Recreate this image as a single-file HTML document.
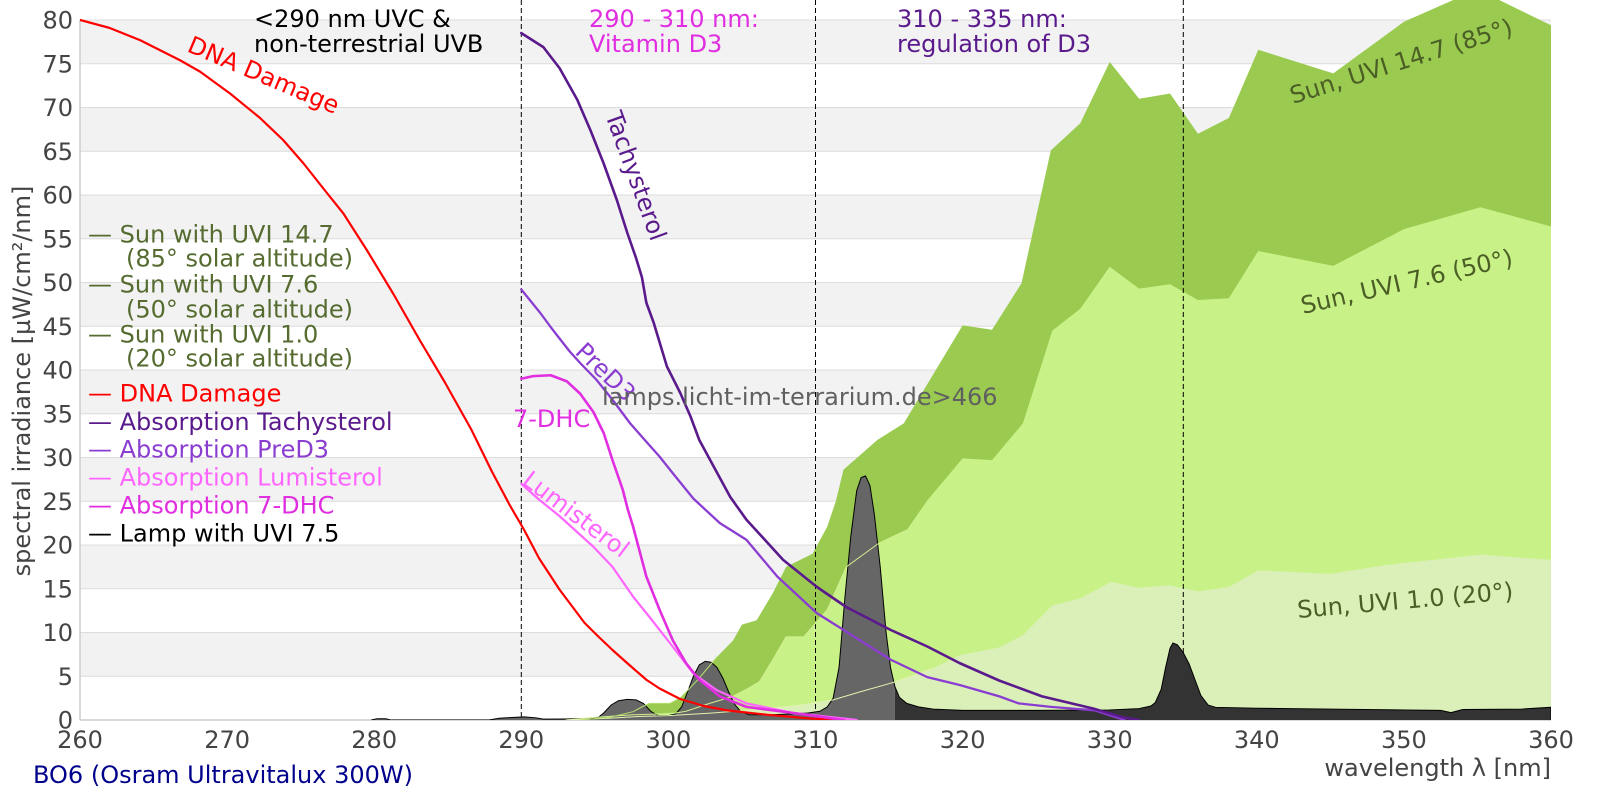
<!DOCTYPE html>
<html><head><meta charset="utf-8"><style>
html,body{margin:0;padding:0;background:#fff;}
svg{display:block;}
text{font-family:"DejaVu Sans","Liberation Sans",sans-serif;font-size:24px;}
</style></head><body>
<svg width="1600" height="800" viewBox="0 0 1600 800" xmlns="http://www.w3.org/2000/svg">
<defs><clipPath id="pc"><rect x="80" y="0" width="1471" height="720"/></clipPath></defs>
<rect x="0" y="0" width="1600" height="800" fill="#fff"/>
<g fill="#f2f2f2">
<rect x="80" y="20" width="1471" height="43.75"/>
<rect x="80" y="107.5" width="1471" height="43.75"/>
<rect x="80" y="195" width="1471" height="43.75"/>
<rect x="80" y="282.5" width="1471" height="43.75"/>
<rect x="80" y="370" width="1471" height="43.75"/>
<rect x="80" y="457.5" width="1471" height="43.75"/>
<rect x="80" y="545" width="1471" height="43.75"/>
<rect x="80" y="632.5" width="1471" height="43.75"/>
</g>
<g stroke="#dcdcdc" stroke-width="1">
<line x1="80" x2="1551" y1="676.25" y2="676.25"/><line x1="80" x2="1551" y1="632.5" y2="632.5"/>
<line x1="80" x2="1551" y1="588.75" y2="588.75"/><line x1="80" x2="1551" y1="545" y2="545"/>
<line x1="80" x2="1551" y1="501.25" y2="501.25"/><line x1="80" x2="1551" y1="457.5" y2="457.5"/>
<line x1="80" x2="1551" y1="413.75" y2="413.75"/><line x1="80" x2="1551" y1="370" y2="370"/>
<line x1="80" x2="1551" y1="326.25" y2="326.25"/><line x1="80" x2="1551" y1="282.5" y2="282.5"/>
<line x1="80" x2="1551" y1="238.75" y2="238.75"/><line x1="80" x2="1551" y1="195" y2="195"/>
<line x1="80" x2="1551" y1="151.25" y2="151.25"/><line x1="80" x2="1551" y1="107.5" y2="107.5"/>
<line x1="80" x2="1551" y1="63.75" y2="63.75"/><line x1="80" x2="1551" y1="20" y2="20"/>
</g>
<line x1="80" y1="20" x2="80" y2="720" stroke="#cccccc" stroke-width="1.5"/>
<line x1="80" y1="720" x2="1551" y2="720" stroke="#cccccc" stroke-width="1.5"/>

<g clip-path="url(#pc)">
<g transform="matrix(14.71 0 0 -8.75 -3744.6 720)">
<polygon fill="#9acb50" points="294,0 296,0.3 297.6,0.95 298.2,1.5 298.7,1.9 299.4,1.9 300.1,1.9 300.8,2.5 302,4.6 303.3,7.2 304.4,9.1 305,10.9 306,11.4 307.1,14.5 308,17.5 309.8,19 310.8,22.1 311.4,25.1 311.9,28.6 314.2,32 316,33.9 320,45.1 322,44.6 324,49.9 326,65.1 328,68.2 330,75.2 332,71 334.1,71.6 336,67 338.1,68.8 340.1,76.6 345.2,73.9 350,79.8 355,83.5 360,79.4 360,0"/>
<polygon fill="#c8f287" points="293,0 295,0.3 297.6,0.6 299.5,0.7 300.5,0.8 301.2,1 302.8,1.9 304.4,2.7 305.3,3.5 306.2,4.4 307.1,6.9 308,9.5 309.2,9.5 310.8,12.6 312.1,17.5 314.3,20.2 316.2,21.7 317.6,25.1 320,29.9 322,29.7 324.1,33.9 326.1,44.5 328,47 330,51.8 332,49.3 334.1,49.8 336,48 338.1,48.2 340.1,53.6 345.2,51.9 350,56.1 355.2,58.6 360,56.4 360,0"/>
<polygon fill="#daf0b8" points="293,0 296,0.2 298,0.4 300,0.5 303,0.8 306,1.2 309,1.7 311.2,2.3 313,3.2 315.3,4.3 318,5.9 319.8,7.4 322.5,8.3 324.1,9.7 326.1,13.1 328,13.9 330.1,15.8 332,15.1 334,15.4 336,14.7 338.1,15.2 340.1,17.1 345,16.7 348.7,17.7 352,18.3 355.2,18.9 360,18.3 360,0"/>
</g>
<g stroke="#000" stroke-width="1" stroke-dasharray="5,3">
<line x1="521.3" y1="0" x2="521.3" y2="720"/>
<line x1="815.5" y1="0" x2="815.5" y2="720"/>
<line x1="1183.3" y1="0" x2="1183.3" y2="720"/>
</g>
<g transform="matrix(14.71 0 0 -8.75 -3744.6 720)">
<polygon fill="#666666" points="279.8,0 280.2,0.15 280.8,0.15 281.1,0 287.8,0 288.5,0.2 289.5,0.3 290.2,0.35 291,0.25 291.5,0.1 293,0.12 294.5,0.18 295.2,0.25 295.6,0.8 296.1,1.7 296.6,2.2 297.2,2.35 297.8,2.3 298.3,1.9 298.8,1 299.3,0.5 300,0.5 300.5,0.7 300.9,1.5 301.3,3.2 301.7,5 302.1,6.3 302.5,6.7 302.9,6.6 303.3,6 303.7,4.8 304.1,3.2 304.5,1.8 304.9,1 305.5,0.6 307,0.6 308.5,0.7 309.5,0.8 310.3,1 310.8,1.5 311.2,2.5 311.6,6 312,14 312.4,21 312.8,26.2 313.1,27.7 313.4,27.9 313.7,26.8 314,23.5 314.4,17.5 314.8,10 315.1,6 315.4,3.8 315.4,0"/>
<polygon fill="#333333" points="315.4,0 315.4,3.8 315.7,2.6 316.2,1.9 317,1.5 318,1.25 320,1.1 325,1.1 330,1.15 332,1.3 332.8,1.6 333.1,2 333.5,3.5 333.8,6 334.1,8.2 334.3,8.8 334.6,8.6 335,7.7 335.4,6.4 335.8,4.6 336.2,2.8 336.7,1.7 337.2,1.45 340,1.35 345,1.25 350,1.15 352.5,1.1 353.2,0.85 354,1.2 358,1.25 360,1.45 360,0"/>
<polyline fill="none" stroke="#000" stroke-width="1" vector-effect="non-scaling-stroke" points="279.8,0 280.2,0.15 280.8,0.15 281.1,0 287.8,0 288.5,0.2 289.5,0.3 290.2,0.35 291,0.25 291.5,0.1 293,0.12 294.5,0.18 295.2,0.25 295.6,0.8 296.1,1.7 296.6,2.2 297.2,2.35 297.8,2.3 298.3,1.9 298.8,1 299.3,0.5 300,0.5 300.5,0.7 300.9,1.5 301.3,3.2 301.7,5 302.1,6.3 302.5,6.7 302.9,6.6 303.3,6 303.7,4.8 304.1,3.2 304.5,1.8 304.9,1 305.5,0.6 307,0.6 308.5,0.7 309.5,0.8 310.3,1 310.8,1.5 311.2,2.5 311.6,6 312,14 312.4,21 312.8,26.2 313.1,27.7 313.4,27.9 313.7,26.8 314,23.5 314.4,17.5 314.8,10 315.1,6 315.4,3.8 315.7,2.6 316.2,1.9 317,1.5 318,1.25 320,1.1 325,1.1 330,1.15 332,1.3 332.8,1.6 333.1,2 333.5,3.5 333.8,6 334.1,8.2 334.3,8.8 334.6,8.6 335,7.7 335.4,6.4 335.8,4.6 336.2,2.8 336.7,1.7 337.2,1.45 340,1.35 345,1.25 350,1.15 352.5,1.1 353.2,0.85 354,1.2 358,1.25 360,1.45 360,0"/>
<polyline fill="none" stroke="#d4ee92" stroke-width="1" vector-effect="non-scaling-stroke" points="293,0 295,0.3 297.6,0.6 299.5,0.7 300.5,0.8 301.2,1 302.8,1.9 304.4,2.7 305.3,3.5 306.2,4.4 307.1,6.9 308,9.5 309.2,9.5 310.8,12.6 312.1,17.5 314.3,20.2 316.2,21.7"/>
<polyline fill="none" stroke="#e2f2b0" stroke-width="1" vector-effect="non-scaling-stroke" points="293,0 296,0.2 298,0.4 300,0.5 303,0.8 306,1.2 309,1.7 311.2,2.3 313,3.2 315.3,4.3 318,5.9"/>
<polyline fill="none" stroke="#b6e070" stroke-width="1" vector-effect="non-scaling-stroke" points="294,0 296,0.3 297.6,0.95 298.2,1.5 298.7,1.9 299.4,1.9 300.1,1.9 300.8,2.5 302,4.6 303.3,7.2"/>

<g fill="none" stroke-linejoin="round" stroke-linecap="round" vector-effect="non-scaling-stroke">
<polyline stroke="#ff0000" stroke-width="2.2" vector-effect="non-scaling-stroke" points="260,80 262,79.1 264.08,77.7 266.8,75.4 268.16,74.1 270.2,71.6 272.24,68.8 273.8,66.3 275.2,63.6 276.8,60.2 277.9,57.9 279.5,53.7 281.3,48.7 283.1,43.4 284.8,38.6 286.6,33.2 288,28.4 289.2,24.6 290.2,21.7 291.2,18.5 292.6,14.9 294.3,11.1 295.2,9.6 296.2,8.0 297.2,6.5 298.5,4.6 299.4,3.6 300.8,2.4 302.4,1.6 304,1.1 306.7,0.6 309.8,0.15 312,0"/>
<polyline stroke="#ff66ff" stroke-width="2.2" vector-effect="non-scaling-stroke" points="290,27 291.2,25.2 292.6,23.3 294.9,19.8 296.2,17.5 297.6,14.1 298.7,11.8 300.1,8.8 301.7,5.3 303.3,3.4 305.3,1.9 308.5,0.8 312.8,0"/>
<polyline stroke="#e02ee0" stroke-width="2.6" vector-effect="non-scaling-stroke" points="290,39 290.8,39.3 292,39.4 293.1,38.7 294,37.3 294.9,35.2 295.6,32.8 296.2,29.7 296.9,26.3 297.25,24 297.6,22.1 298.5,16.4 299.4,12.6 300.3,9.1 301.2,6.5 302.1,4.6 303.5,2.7 305.3,1.5 308.5,0.8 311.9,0"/>
<polyline stroke="#8a3dd0" stroke-width="2.3" vector-effect="non-scaling-stroke" points="290,49.2 291.3,46.5 292,44.9 292.6,43.6 293.3,42.1 294,40.8 295.1,38.9 296.2,36.6 297.4,33.9 298.5,31.8 299.4,30.1 300.3,28.2 301.7,25.3 303.5,22.5 305.3,20.6 307.4,16.4 310.1,12.2 311.9,10.3 315.1,6.9 317.6,4.9 319.8,4 322.5,2.7 323.8,1.9 326,1.5 329,1.1 331,0"/>
<polyline stroke="#5a1a8c" stroke-width="2.6" vector-effect="non-scaling-stroke" points="290,78.5 291.5,76.9 292.6,74.5 293.8,70.9 294.7,67.4 295.6,63.6 296.5,59.4 297.2,55.7 297.8,52.8 298.2,50.6 298.5,47.7 299,45.4 299.9,40.4 300.8,37.4 301.5,34.7 302.1,32 303.1,28.9 304.2,25.5 305.3,22.9 307.8,18.3 310.1,15.2 312.1,12.9 315.1,10.3 317.6,8.4 319.8,6.5 322.5,4.5 325.4,2.7 328.9,1.3 330.9,0.3 332,0"/>
</g>
</g>
</g>

<!-- axis tick labels -->
<g fill="#444" text-anchor="end">
<text x="73" y="728.5">0</text><text x="73" y="684.75">5</text><text x="73" y="641">10</text>
<text x="73" y="597.25">15</text><text x="73" y="553.5">20</text><text x="73" y="509.75">25</text>
<text x="73" y="466">30</text><text x="73" y="422.25">35</text><text x="73" y="378.5">40</text>
<text x="73" y="334.75">45</text><text x="73" y="291">50</text><text x="73" y="247.25">55</text>
<text x="73" y="203.5">60</text><text x="73" y="159.75">65</text><text x="73" y="116">70</text>
<text x="73" y="72.25">75</text><text x="73" y="28.5">80</text>
</g>
<g fill="#444" text-anchor="middle">
<text x="80" y="748">260</text><text x="227.1" y="748">270</text><text x="374.2" y="748">280</text>
<text x="521.3" y="748">290</text><text x="668.4" y="748">300</text><text x="815.5" y="748">310</text>
<text x="962.6" y="748">320</text><text x="1109.7" y="748">330</text><text x="1256.8" y="748">340</text>
<text x="1403.9" y="748">350</text><text x="1551" y="748">360</text>
</g>
<text x="1551" y="776" fill="#444" text-anchor="end">wavelength λ [nm]</text>
<text transform="translate(30,381) rotate(-90)" fill="#444" text-anchor="middle">spectral irradiance [µW/cm²/nm]</text>
<text x="33" y="783" fill="#00008b">BO6 (Osram Ultravitalux 300W)</text>

<!-- top annotations -->
<text x="254" y="27" fill="#000">&lt;290 nm UVC &amp;</text>
<text x="254" y="52" fill="#000">non-terrestrial UVB</text>
<text x="589" y="27" fill="#e02ee0">290 - 310 nm:</text>
<text x="589" y="52" fill="#e02ee0">Vitamin D3</text>
<text x="897" y="27" fill="#5a1a8c">310 - 335 nm:</text>
<text x="897" y="52" fill="#5a1a8c">regulation of D3</text>

<!-- curve labels -->
<text transform="translate(186,51) rotate(23)" fill="#ff0000">DNA Damage</text>
<text transform="translate(605,115) rotate(70)" fill="#5a1a8c">Tachysterol</text>
<text transform="translate(574,353) rotate(44)" fill="#8a3dd0">PreD3</text>
<text x="513" y="427" fill="#e02ee0">7-DHC</text>
<text transform="translate(521,483) rotate(37)" fill="#ff66ff">Lumisterol</text>
<text transform="translate(1293,104) rotate(-17.5)" fill="#4b5e25">Sun, UVI 14.7 (85°)</text>
<text transform="translate(1303,314) rotate(-13)" fill="#4b5e25">Sun, UVI 7.6 (50°)</text>
<text transform="translate(1298,618) rotate(-5)" fill="#4b5e25">Sun, UVI 1.0 (20°)</text>
<text x="602" y="405" fill="#606060">lamps.licht-im-terrarium.de&gt;466</text>

<!-- legend -->
<text x="88" y="242.7" fill="#556b2f">— Sun with UVI 14.7</text>
<text x="126" y="266.7" fill="#556b2f">(85° solar altitude)</text>
<text x="88" y="292.7" fill="#556b2f">— Sun with UVI 7.6</text>
<text x="126" y="317.3" fill="#556b2f">(50° solar altitude)</text>
<text x="88" y="342.7" fill="#556b2f">— Sun with UVI 1.0</text>
<text x="126" y="366.7" fill="#556b2f">(20° solar altitude)</text>
<text x="88" y="401.7" fill="#ff0000">— DNA Damage</text>
<text x="88" y="430" fill="#5a1a8c">— Absorption Tachysterol</text>
<text x="88" y="457.7" fill="#8a3dd0">— Absorption PreD3</text>
<text x="88" y="485.7" fill="#ff66ff">— Absorption Lumisterol</text>
<text x="88" y="513.3" fill="#e02ee0">— Absorption 7-DHC</text>
<text x="88" y="541.7" fill="#000">— Lamp with UVI 7.5</text>
</svg>
</body></html>
